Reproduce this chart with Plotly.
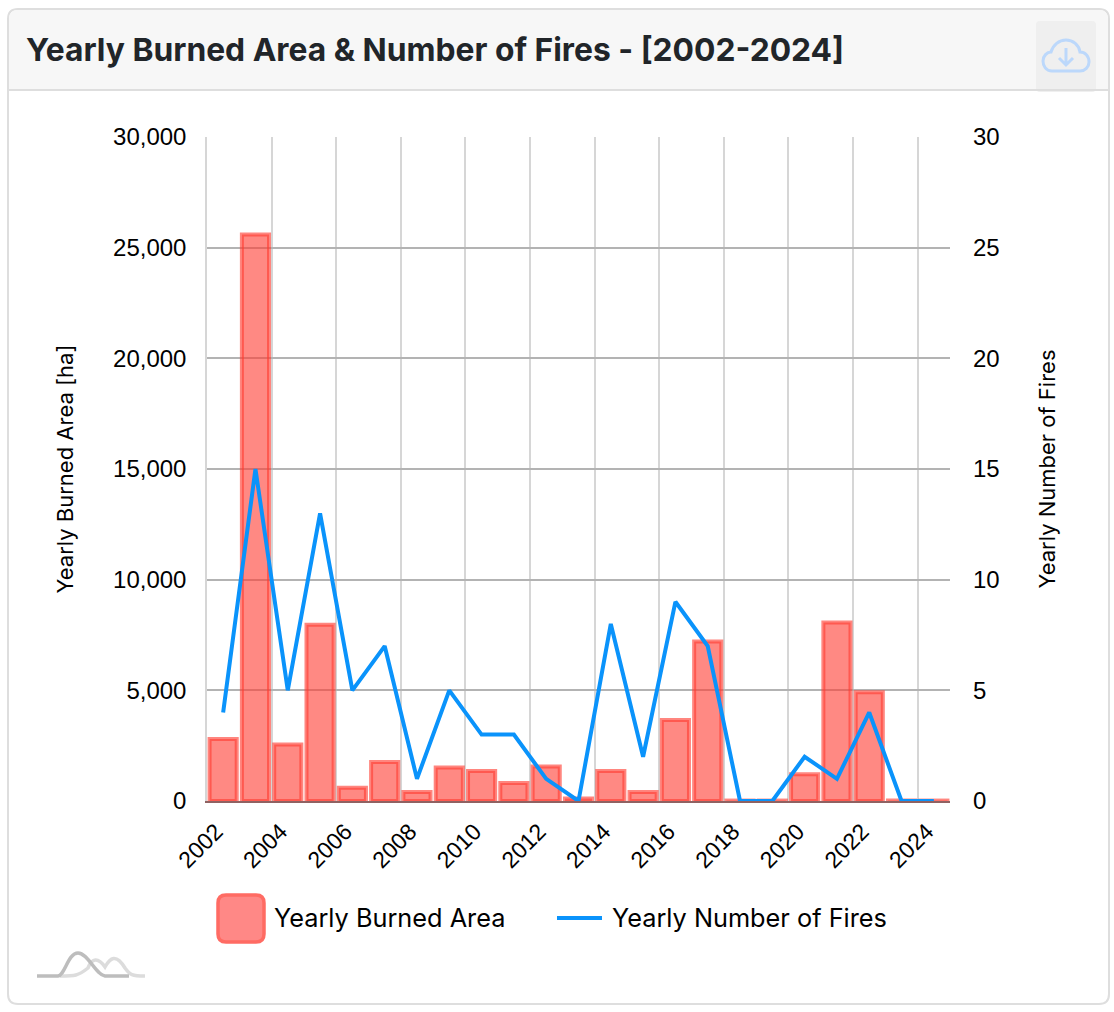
import plotly.graph_objects as go

years = list(range(2002, 2025))
burned_area = [2800, 25600, 2550, 7960, 600, 1760, 410, 1510, 1360, 810, 1560, 110,
               1360, 410, 3660, 7210, 20, 20, 1210, 8060, 4910, 20, 20]
num_fires = [4, 15, 5, 13, 5, 7, 1, 5, 3, 3, 1, 0, 8, 2, 9, 7, 0, 0, 2, 1, 4, 0, 0]
tick_years = years[::2]
title_text = "Yearly Burned Area &amp; Number of Fires - [2002-2024]"
area_name = "Yearly Burned Area"
fires_name = "Yearly Number of Fires"

W, H = 1114, 1012
L, R, T, B = 207, 950, 137, 801
TICK_FONT = dict(family="Liberation Sans", size=24, color="#000000")
XTICK_FONT = dict(family="Liberation Sans", size=23, color="#000000")
LEG_FONT = "Inter"
BAR_FILL = "rgba(255,59,48,0.6)"
BAR_LINE = "rgba(255,59,48,0.62)"


def px(x):
    return (x - L) / (R - L)


def py(y):
    return (B - y) / (B - T)


def path(cmds):
    out = []
    for c in cmds:
        if isinstance(c, str):
            out.append(c)
        else:
            out.append(f"{px(c[0]):.5f},{py(c[1]):.5f}")
    return " ".join(out)


def rrect(x0, y0, x1, y1, r, corners=(1, 1, 1, 1)):
    tl, tr, br, bl = [r * c for c in corners]
    return path(["M", (x0 + tl, y0), "L", (x1 - tr, y0), "Q", (x1, y0), (x1, y0 + tr),
                 "L", (x1, y1 - br), "Q", (x1, y1), (x1 - br, y1),
                 "L", (x0 + bl, y1), "Q", (x0, y1), (x0, y1 - bl),
                 "L", (x0, y0 + tl), "Q", (x0, y0), (x0 + tl, y0), "Z"])


def shape(d, fill="rgba(0,0,0,0)", color="rgba(0,0,0,0)", width=0, layer="below"):
    return dict(type="path", xref="paper", yref="paper", path=d, fillcolor=fill,
                line=dict(color=color, width=width), layer=layer)


shapes = [
    shape(rrect(8, 9, 1109, 1004, 10), fill="#ffffff", color="#dedede", width=2),
    shape(rrect(9, 10, 1108, 90, 9, (1, 1, 0, 0)), fill="#f7f7f7"),
    shape(rrect(1036, 21, 1096, 92, 4), fill="#efefef"),
    shape(path(["M", (8, 90), "L", (1109, 90)]), color="#dedede", width=2),
    # download cloud icon
    shape(path(["M", (1052, 71), "C", (1046, 71), (1043, 66), (1043, 61),
                "C", (1043, 56), (1047, 52), (1051, 52), "C", (1053, 45), (1059, 40), (1066, 40),
                "C", (1073, 40), (1079, 45), (1080, 52), "C", (1085, 52), (1089, 56), (1089, 62),
                "C", (1089, 67), (1085, 71), (1080, 71), "Z"]),
          color="#bcd8fb", width=3, layer="above"),
    shape(path(["M", (1066, 48), "L", (1066, 65), "M", (1059, 58), "L", (1066, 65), "L", (1073, 58)]),
          color="#bcd8fb", width=3, layer="above"),
    # logo
    shape(path(["M", (60, 976), "C", (75, 976), (78, 976), (88, 968), "C", (92, 958), (98, 957), (105, 967),
                "C", (110, 958), (116, 953), (125, 968), "C", (130, 975), (132, 976), (145, 976)]),
          color="#dcdcdc", width=3.5),
    shape(path(["M", (37, 976), "L", (58, 976), "C", (65, 975), (68, 953), (78, 953),
                "C", (88, 953), (96, 975), (105, 976), "L", (129, 976)]),
          color="#bdbdbd", width=3.5),
    # legend keys
    shape(rrect(218, 895, 264, 942, 8), fill="#ff8886", color="#ff6b63", width=3.5, layer="above"),
    shape(path(["M", (557, 918), "L", (602, 918)]), color="#0a93fb", width=4, layer="above"),
]

annotations = [
    dict(text=f"<b>{title_text}</b>", xref="paper", yref="paper", x=px(24), y=py(50),
         xanchor="left", yanchor="middle", showarrow=False,
         font=dict(family="Inter", size=31.77, color="#212529")),
    dict(text=area_name, xref="paper", yref="paper", x=px(272), y=py(917),
         xanchor="left", yanchor="middle", showarrow=False,
         font=dict(family=LEG_FONT, size=25.3, color="#000000")),
    dict(text=fires_name, xref="paper", yref="paper", x=px(610), y=py(917),
         xanchor="left", yanchor="middle", showarrow=False,
         font=dict(family=LEG_FONT, size=25.3, color="#000000")),
]

fig = go.Figure()
fig.add_trace(go.Bar(x=years, y=burned_area, name=area_name, width=0.84,
                     marker=dict(color=BAR_FILL, line=dict(color=BAR_LINE, width=4)),
                     yaxis="y"))
fig.add_trace(go.Scatter(x=years, y=num_fires, name=fires_name, mode="lines",
                         line=dict(color="#0a93fb", width=4), yaxis="y2", cliponaxis=False))

fig.update_layout(
    width=W, height=H, autosize=False,
    margin=dict(l=L, r=W - R, t=T, b=H - B, pad=0),
    paper_bgcolor="#ffffff", plot_bgcolor="rgba(0,0,0,0)",
    showlegend=False, shapes=shapes, annotations=annotations,
    xaxis=dict(range=[2001.5, 2024.5], tickmode="array", tickvals=tick_years,
               ticktext=[str(y) for y in tick_years], tickangle=-45, ticks="",
               showgrid=False, zeroline=False, showline=True, linecolor="#8f6262", linewidth=2,
               layer="below traces", tickfont=XTICK_FONT,
               ticklabelstandoff=6, ticklabelshift=-7,
               minor=dict(tickmode="array", tickvals=[y - 0.5 for y in years[::2]],
                          showgrid=True, gridcolor="#d6d6d6", gridwidth=1.5, ticks="")),
    yaxis=dict(range=[0, 30000], dtick=5000, tickformat=",d", gridcolor="#b3b3b3", gridwidth=1.5,
               showline=True, linecolor="#d6d6d6", linewidth=1.5, zeroline=False,
               tickfont=TICK_FONT, ticklabelstandoff=14,
               title=dict(text="Yearly Burned Area [ha]", standoff=33,
                          font=dict(family=LEG_FONT, size=22, color="#000000"))),
    yaxis2=dict(range=[0, 30], dtick=5, overlaying="y", side="right", showgrid=False,
                showline=False, zeroline=False, tickfont=TICK_FONT, ticklabelstandoff=22,
                title=dict(text="Yearly Number of Fires", standoff=40,
                           font=dict(family=LEG_FONT, size=22, color="#000000"))),
)
fig.write_html("out.html", config=dict(displayModeBar=False),
               post_script="document.body.style.margin='0';")
